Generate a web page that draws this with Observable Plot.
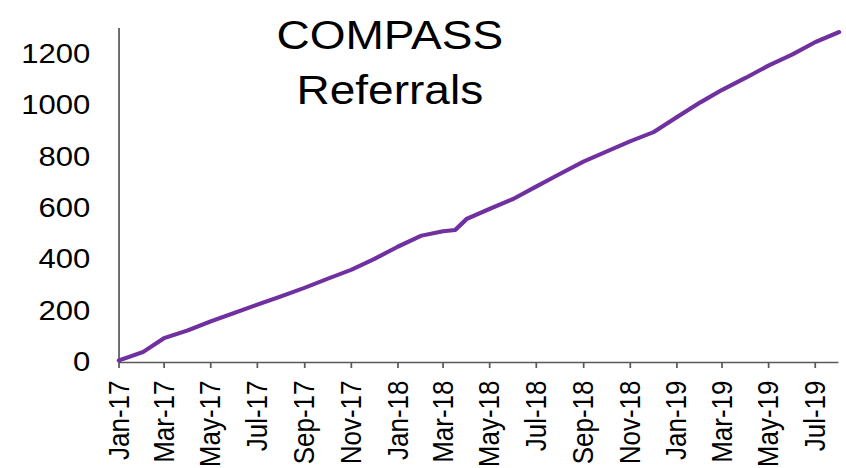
<!DOCTYPE html>
<html>
<head>
<meta charset="utf-8">
<script src="https://cdn.jsdelivr.net/npm/d3@7"></script>
<script src="https://cdn.jsdelivr.net/npm/@observablehq/plot@0.6"></script>
<style>
  html, body { margin: 0; padding: 0; background: #fff; }
  #wrap { position: relative; width: 736px; height: 468px; transform: scaleX(1.15); transform-origin: 0 0; }
  #title { position: absolute; left: 189px; top: 8px; width: 300px; text-align: center;
           font-family: "Liberation Sans", Arial, sans-serif; font-size: 40px; line-height: 55px; color: #000; }
  #chart svg { display: block; }
</style>
</head>
<body>
<div id="wrap">
  <div id="chart"></div>
  <div id="title">COMPASS<br>Referrals</div>
</div>
<script>
// Report dates (monthly, plus one mid-March 2018 report)
const dates = [
  "2017-01-01","2017-02-01","2017-03-01","2017-04-01","2017-05-01","2017-06-01",
  "2017-07-01","2017-08-01","2017-09-01","2017-10-01","2017-11-01","2017-12-01",
  "2018-01-01","2018-02-01","2018-03-01","2018-03-17","2018-04-01","2018-05-01",
  "2018-06-01","2018-07-01","2018-08-01","2018-09-01","2018-10-01","2018-11-01",
  "2018-12-01","2019-01-01","2019-02-01","2019-03-01","2019-04-01","2019-05-01",
  "2019-06-01","2019-07-01","2019-08-01"
];
// Cumulative COMPASS referrals
const referrals = [
  8, 40, 95, 125, 160, 193,
  225, 257, 291, 326, 361, 403,
  451, 494, 511, 516, 559, 598,
  637, 685, 734, 782, 821, 861,
  896, 955, 1013, 1061, 1108, 1156,
  1199, 1247, 1286
];
// X-axis ticks and labels
const tickDates = [
  "2017-01-01","2017-03-01","2017-05-01","2017-07-01","2017-09-01","2017-11-01",
  "2018-01-01","2018-03-01","2018-05-01","2018-07-01","2018-09-01","2018-11-01",
  "2019-01-01","2019-03-01","2019-05-01","2019-07-01"
];
const tickLabels = [
  "Jan-17","Mar-17","May-17","Jul-17","Sep-17","Nov-17",
  "Jan-18","Mar-18","May-18","Jul-18","Sep-18","Nov-18",
  "Jan-19","Mar-19","May-19","Jul-19"
];
const yTicks = [0, 200, 400, 600, 800, 1000, 1200];

const data = dates.map((d, i) => ({date: new Date(d + "T00:00:00Z"), value: referrals[i]}));
const ticks = tickDates.map(d => new Date(d + "T00:00:00Z"));
const labelOf = new Map(ticks.map((t, i) => [+t, tickLabels[i]]));

const axisColor = "#595959";

const chart = Plot.plot({
  width: 736,
  height: 468,
  marginLeft: 103,
  marginRight: 7,
  marginTop: 28,
  marginBottom: 106,
  style: {fontFamily: "'Liberation Sans', Arial, sans-serif", color: "#000", background: "#fff"},
  x: {type: "utc", domain: [data[0].date, data[data.length - 1].date]},
  y: {domain: [0, 1300]},
  marks: [
    Plot.axisY({ticks: yTicks, tickFormat: d => String(d), tickSize: 0, tickPadding: 25, label: null, fontSize: 27, fill: "#000"}),
    Plot.axisX({ticks: ticks, tickFormat: d => labelOf.get(+d), tickRotate: -90, tickSize: 6,
                tickPadding: 12, label: null, fontSize: 26, stroke: axisColor, strokeWidth: 1.5, fill: "#000"}),
    Plot.ruleX([data[0].date], {stroke: axisColor, strokeWidth: 1.5}),
    Plot.ruleY([0], {stroke: axisColor, strokeWidth: 1.5}),
    Plot.line(data, {x: "date", y: "value", stroke: "#7030A0", strokeWidth: 4, strokeLinejoin: "round", strokeLinecap: "round"})
  ]
});
document.getElementById("chart").appendChild(chart);
</script>
</body>
</html>
